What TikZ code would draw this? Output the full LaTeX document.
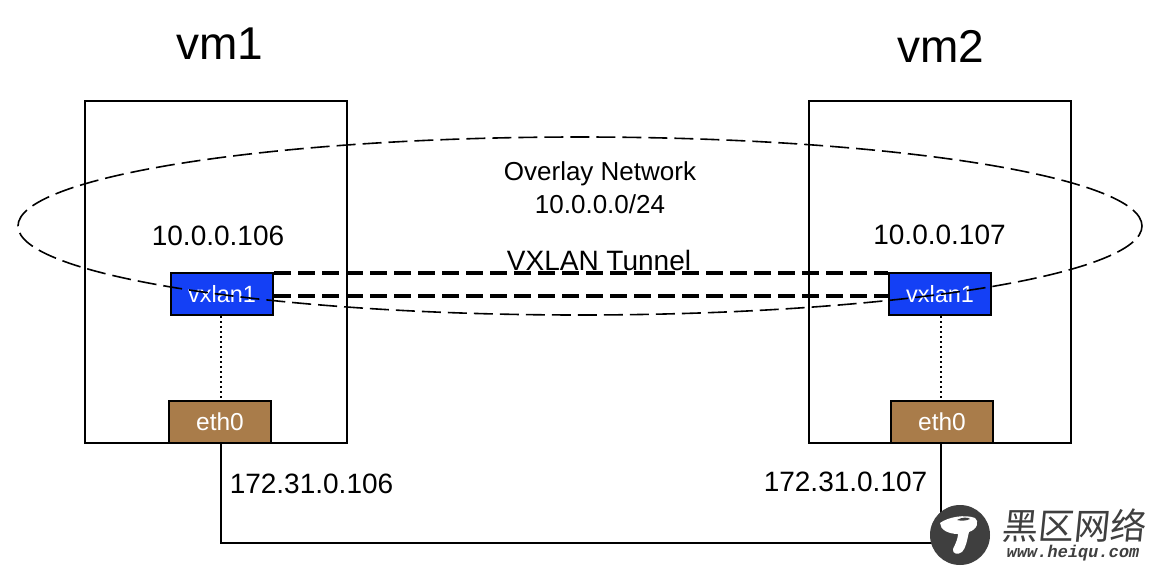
\documentclass[tikz,border=0pt]{standalone}
\usepackage{fontspec}
\setmainfont{Liberation Sans}
\newfontfamily\cjkfont{Noto Sans CJK SC}
\newfontfamily\wmmono{Liberation Mono}
\usetikzlibrary{shapes.geometric}
\definecolor{vxblue}{HTML}{1440F5}
\definecolor{ethbrown}{HTML}{A97C4A}
\definecolor{wmgrey}{HTML}{3F3F3F}
\tikzset{
  vmbox/.style={draw=black,line width=2pt,fill=white,minimum width=262pt,minimum height=342pt,inner sep=0pt,anchor=north west},
  vxbox/.style={draw=black,line width=2pt,fill=vxblue,text=white,minimum width=102pt,minimum height=42pt,inner sep=0pt,font=\fontsize{23.5}{28}\selectfont},
  ethbox/.style={draw=black,line width=2pt,fill=ethbrown,text=white,minimum width=102pt,minimum height=42pt,inner sep=0pt,font=\fontsize{24.5}{28}\selectfont},
  lbl/.style={inner sep=0pt,font=\fontsize{28}{32}\selectfont},
  midlbl/.style={inner sep=0pt,font=\fontsize{26}{30}\selectfont},
  title/.style={inner sep=0pt,font=\fontsize{46}{52}\selectfont},
  tunnel/.style={line width=4pt,dash pattern=on 17pt off 7pt},
  wire/.style={line width=2pt},
  dotwire/.style={line width=1.5pt,dash pattern=on 2pt off 3pt},
  overlay/.style={draw=black,line width=1.6pt,dash pattern=on 19pt off 7pt,ellipse,minimum width=1124pt,minimum height=178pt,inner sep=0pt}
}
\begin{document}
\begin{tikzpicture}[x=1pt,y=-1pt]
\useasboundingbox (0,0) rectangle (1162,570);
\fill[white] (0,0) rectangle (1162,570);
\node[vmbox] (vm1box) at (84.2,100.2) {};
\node[vmbox] (vm2box) at (808.2,100.2) {};
\node[title] (vm1t) at (219.5,44) {vm1};
\node[title] (vm2t) at (941,46) {vm2};
\node[vxbox] (vx1) at (222,294) {vxlan1};
\node[vxbox] (vx2) at (940,294) {vxlan1};
\node[ethbox] (eth1) at (220,422) {eth0};
\node[ethbox] (eth2) at (942,422) {eth0};
\node[lbl] (ip1) at (218,236) {10.0.0.106};
\node[lbl] (ip2) at (939.5,235) {10.0.0.107};
\node[midlbl] (ovl) at (600,174) {Overlay Network};
\node[midlbl] (sub) at (600,204.5) {10.0.0.0/24};
\node[midlbl,font=\fontsize{28}{32}\selectfont] (vxt) at (599,260) {VXLAN Tunnel};
\node[lbl] (pub1) at (311.5,484) {172.31.0.106};
\node[lbl] (pub2) at (845.5,482) {172.31.0.107};
\draw[tunnel] ([yshift=-1pt]vx1.north east) -- ([yshift=-1pt]vx2.north west);
\draw[tunnel] ([yshift=-23.5pt]vx1.north east) -- ([yshift=-23.5pt]vx2.north west);
\draw[dotwire] ([xshift=-1pt]vx1.south) -- ([xshift=1pt]eth1.north);
\draw[dotwire] ([xshift=1pt]vx2.south) -- ([xshift=-1pt]eth2.north);
\coordinate (cC) at (221,543);
\coordinate (cD) at (941,543);
\draw[wire] ([xshift=1pt]eth1.south) -- (cC) -- (cD) -- ([xshift=-1pt]eth2.south);
\node[overlay] (ovnet) at (580,226) {};
% watermark
\node[circle,fill=wmgrey,minimum size=60pt,inner sep=0pt] (logo) at (960,535) {};
\fill[white] (940,523) .. controls (948,517) and (965,514) .. (975,518) .. controls (979,521) and (978,529) .. (969,532)
  .. controls (967,540) and (966,548) .. (962,552) .. controls (958,555) and (952,554) .. (953,549)
  .. controls (956,543) and (958,538) .. (958,534) .. controls (949,534) and (940,530) .. (940,523) -- cycle;
\fill[wmgrey] (957,520) .. controls (962,517) and (968,517) .. (970,519) .. controls (966,521) and (961,521) .. (957,520) -- cycle;
\node[inner sep=0pt,text=wmgrey,font=\cjkfont\fontsize{36}{40}\selectfont,xslant=0.1] (wm1) at (1075,526) {黑区网络};
\node[inner sep=0pt,text=wmgrey,font=\wmmono\bfseries\fontsize{17}{20}\selectfont,xslant=0.2] (wm2) at (1073,553) {www.heiqu.com};
\end{tikzpicture}
\end{document}
